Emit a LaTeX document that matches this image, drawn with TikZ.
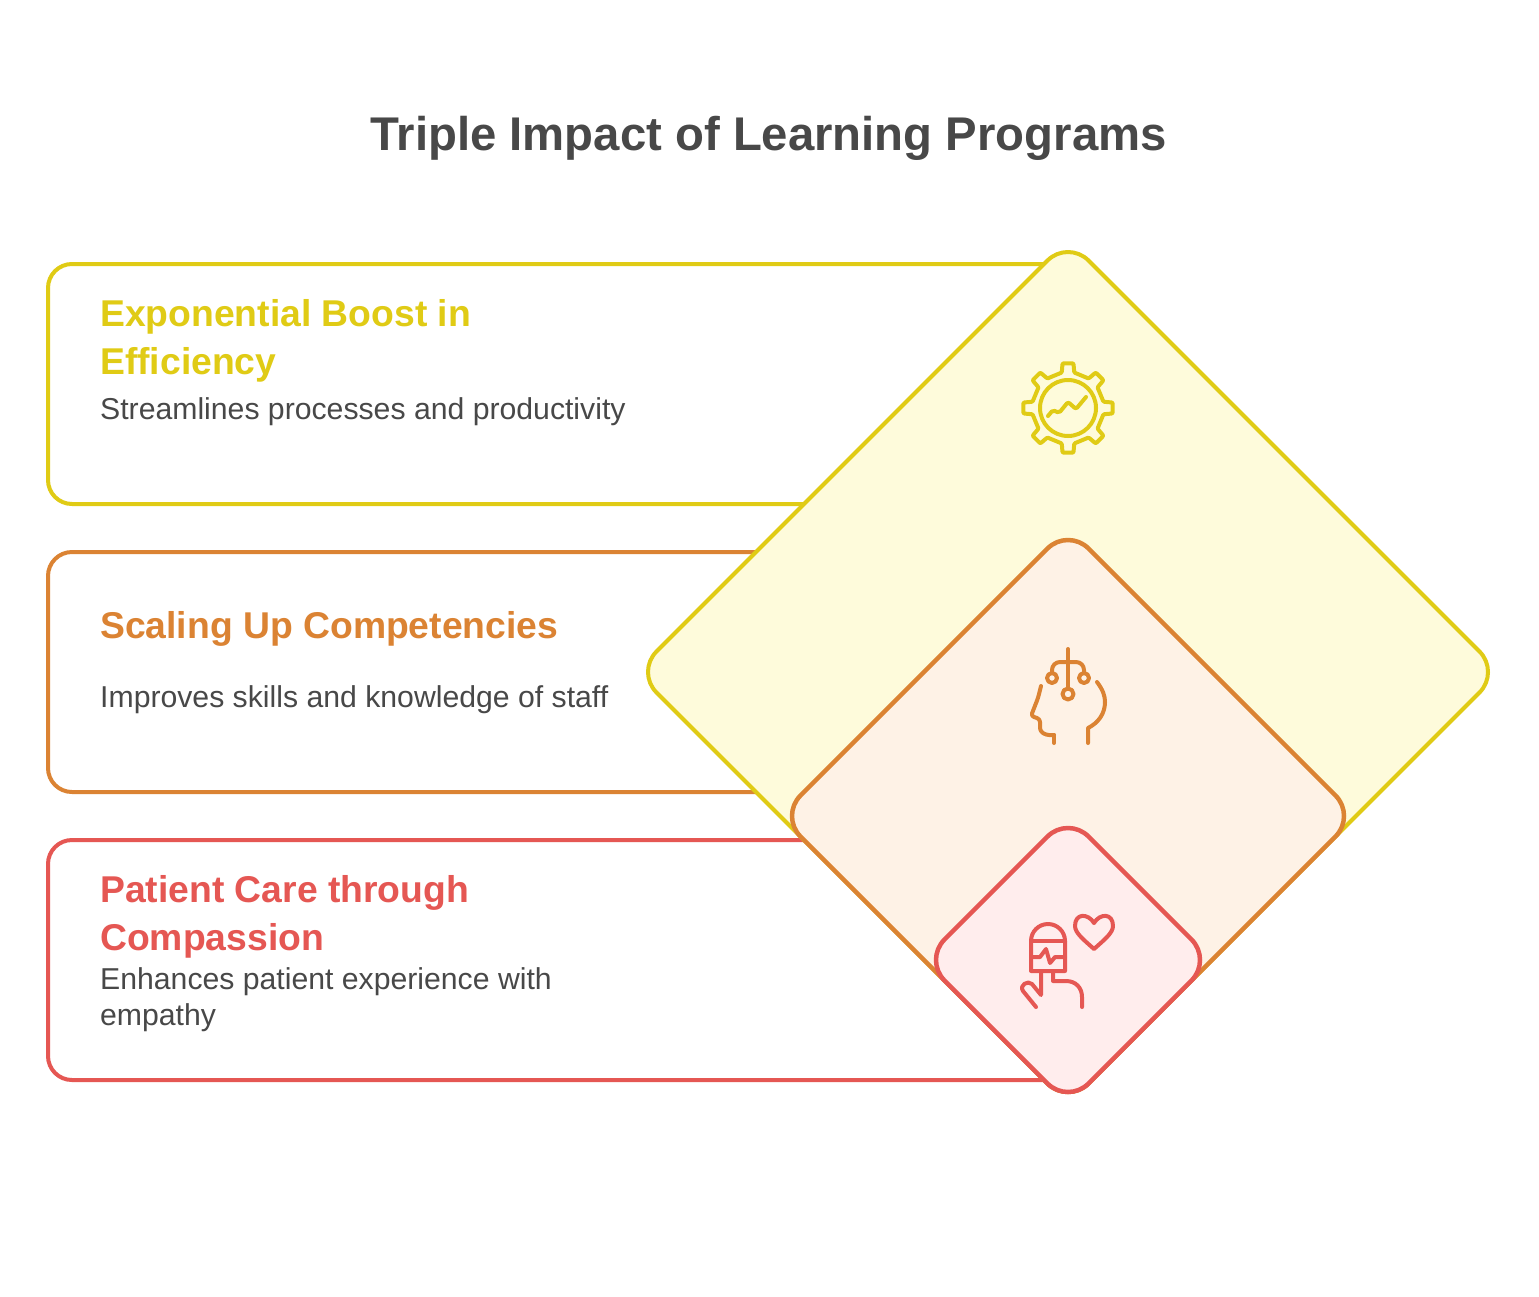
\documentclass[tikz,border=0pt]{standalone}
\usepackage{fontspec}
\setmainfont{Liberation Sans}
\definecolor{inkgray}{HTML}{484848}
\definecolor{effline}{HTML}{E0CB15}
\definecolor{efffill}{HTML}{FEFBDB}
\definecolor{skillline}{HTML}{DB8333}
\definecolor{skillfill}{HTML}{FEF2E6}
\definecolor{careline}{HTML}{E55753}
\definecolor{carefill}{HTML}{FFEDED}
\begin{document}
\begin{tikzpicture}
[x=1pt,y=-1pt,%
  boxDecorate/.style={shape=rectangle,line width=4pt,rounded corners=24pt,fill=white,
    minimum width=1020pt,minimum height=240pt,inner sep=0pt},%
  iconDecorate/.style={line width=4pt,line cap=round,line join=round,fill=none},%
  titleDecorate/.style={anchor=base,inner sep=0pt,text=inkgray,font=\fontsize{47.3}{56}\selectfont\bfseries},%
  headDecorate/.style={anchor=north west,inner sep=0pt,align=left,font=\fontsize{37.3}{48}\selectfont\bfseries},%
  bodyDecorate/.style={anchor=north west,inner sep=0pt,align=left,text=inkgray,font=\fontsize{30.2}{36}\selectfont}]
\useasboundingbox (0,0) rectangle (1539,1296);
%% title
\node (title) at (768.5,150) [titleDecorate] {Triple Impact of Learning Programs};
%% boxes behind the diamonds
\foreach \boxname/\y/\colorname in {
  effbox/384/effline, skillbox/672/skillline, carebox/960/careline}
{
  \node (\boxname) at (558,\y) [boxDecorate,draw=\colorname] {};
}
%% diamonds, largest first
\foreach \y/\r/\w/\colorname/\fillname in {
  672/432/4/effline/efffill, 816/288/4.5/skillline/skillfill,
  960/144/4.5/careline/carefill}
{
  \draw[line width=\w pt,draw=\colorname,fill=\fillname]
    (1068-20.5,\y-\r+20.5) arc[start angle=225,end angle=315,radius=29]
    -- (1068+\r-20.5,\y-20.5) arc[start angle=315,end angle=405,radius=29]
    -- (1068+20.5,\y+\r-20.5) arc[start angle=45,end angle=135,radius=29]
    -- (1068-\r+20.5,\y+20.5) arc[start angle=135,end angle=225,radius=29] -- cycle;
}
%% texts
\node (effhead) at (100,299) [headDecorate,text=effline] {Exponential Boost in\\Efficiency};
\node (effbody) at (100,397) [bodyDecorate] {Streamlines processes and productivity};
\node (skillhead) at (100,611) [headDecorate,text=skillline] {Scaling Up Competencies};
\node (skillbody) at (100,685) [bodyDecorate] {Improves skills and knowledge of staff};
\node (carehead) at (100,875) [headDecorate,text=careline] {Patient Care through\\Compassion};
\node (carebody) at (100,967) [bodyDecorate] {Enhances patient experience with\\empathy};
%% gear icon
\begin{scope}[shift={(1068,408)},iconDecorate,draw=effline]
  \draw[rounded corners=1pt] (100:36) -- (97:45) -- (83:45) -- (80:36)
    \foreach \a in {45,0,-45,-90,-135,-180,-225}
    { -- (\a+10:36) -- (\a+7:45) -- (\a-7:45) -- (\a-10:36) } -- cycle;
  \draw (0,0) circle (28);
  \draw[rounded corners=2pt] (-20,8) -- (-15,2) -- (-9,5) -- (0,-6) -- (8,1) -- (18,-11);
\end{scope}
%% head icon
\begin{scope}[iconDecorate,draw=skillline]
  \draw (1068,649) -- (1068,688);
  \foreach \x/\y/\r in {1068/694/5.5, 1052/678/5, 1084/678/5}
  { \draw (\x,\y) circle (\r); }
  \draw[rounded corners=8pt] (1052,673) -- (1052,662) -- (1084,662) -- (1084,673);
  \draw[rounded corners=3pt] (1041,686) -- (1038,698) -- (1031,716) -- (1040,719)
    -- (1040,731) -- (1046,735) -- (1054,735);
  \draw (1054,735) -- (1054,743);
  \draw (1097,682) .. controls (1103,690) and (1105,696) .. (1105,702)
    .. controls (1105,714) and (1098,723) .. (1088,728) -- (1088,743);
\end{scope}
%% hand icon
\begin{scope}[iconDecorate,draw=careline]
  \draw (1031,971) -- (1031,941) arc[start angle=180,end angle=360,radius=17]
    -- (1065,971) -- cycle;
  \draw (1031,941) -- (1065,941);
  \draw (1031,957) -- (1040,957) -- (1046,949) -- (1050,963) -- (1055,957) -- (1065,957);
  \draw (1041,971) -- (1041,995) -- (1032,984)
    .. controls (1028,980) and (1019,985) .. (1023,991) -- (1036,1007);
  \draw (1053,971) -- (1053,981) -- (1066,981)
    .. controls (1076,981) and (1082,988) .. (1082,997) -- (1082,1007);
  \draw (1094,923) .. controls (1088,913) and (1075,913) .. (1075,926)
    .. controls (1075,933) and (1084,940) .. (1094,949)
    .. controls (1104,940) and (1113,933) .. (1113,926)
    .. controls (1113,913) and (1100,913) .. (1094,923) -- cycle;
\end{scope}
\end{tikzpicture}
\end{document}
